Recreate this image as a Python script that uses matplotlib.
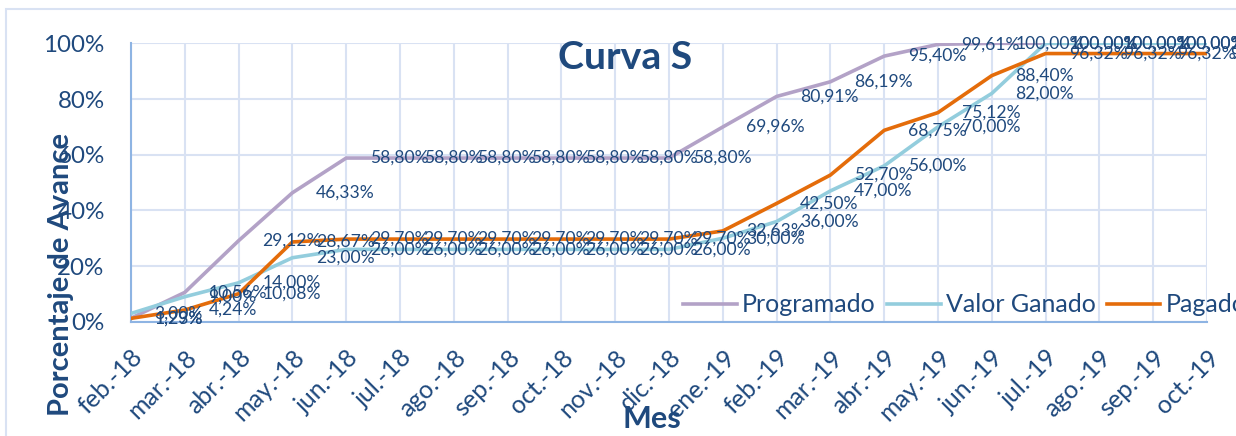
import numpy as np
import matplotlib
matplotlib.use('Agg')
import matplotlib.pyplot as plt
from matplotlib.patches import Rectangle

plt.rcParams['font.family'] = ['Lato', 'DejaVu Sans']

# datos de la curva S (porcentaje de avance)
meses = ['feb.-18', 'mar.-18', 'abr.-18', 'may.-18', 'jun.-18', 'jul.-18', 'ago.-18',
         'sep.-18', 'oct.-18', 'nov.-18', 'dic.-18', 'ene.-19', 'feb.-19', 'mar.-19',
         'abr.-19', 'may.-19', 'jun.-19', 'jul.-19', 'ago.-19', 'sep.-19', 'oct.-19']
programado = [1.29, 10.56, 29.12, 46.33, 58.80, 58.80, 58.80, 58.80, 58.80, 58.80, 58.80,
              69.96, 80.91, 86.19, 95.40, 99.61, 100.00, 100.00, 100.00, 100.00, 100.00]
valor_ganado = [3.00, 9.00, 14.00, 23.00, 26.00, 26.00, 26.00, 26.00, 26.00, 26.00, 26.00,
                30.00, 36.00, 47.00, 56.00, 70.00, 82.00, 100.00, 100.00, 100.00, 100.00]
pagado = [1.23, 4.24, 10.08, 28.67, 29.70, 29.70, 29.70, 29.70, 29.70, 29.70, 29.70,
          32.63, 42.50, 52.70, 68.75, 75.12, 88.40, 96.32, 96.32, 96.32, 96.32]
y_ticks = [0, 20, 40, 60, 80, 100]

W, H = 1236, 436
azul = '#1F497D'
grid_c = '#D9E2F3'

fig = plt.figure(figsize=(W / 100, H / 100), dpi=100)
ax = fig.add_axes([131 / W, 1 - 321.8 / H, (1207 - 131) / W, (321.8 - 43.3) / H])

x = np.arange(len(meses))
series = [('Programado', programado, '#B3A2C7'),
          ('Valor Ganado', valor_ganado, '#93CDDD'),
          ('Pagado', pagado, '#E46C0A')]

for name, vals, col in series:
    v = np.array(vals) / 100
    ax.plot(x, v, color=col, lw=2.6, label=name, zorder=3, solid_joinstyle='round')

# etiquetas de datos (a la derecha de cada punto)
for name, vals, col in series:
    for i, val in enumerate(vals):
        txt = f'{val:.2f}'.replace('.', ',') + '%'
        ax.annotate(txt, (i, val / 100), xytext=(17, 0), textcoords='offset points',
                    ha='left', va='center', fontsize=12.6, color=azul,
                    annotation_clip=False, zorder=5)

ax.set_xlim(0, len(meses) - 1)
ax.set_ylim(0, 1)
ax.set_xticks(x)
ax.set_xticklabels(meses, rotation=45, ha='right', va='top', rotation_mode='anchor')
ax.set_yticks(np.array(y_ticks) / 100)
ax.set_yticklabels([f'{t}%' for t in y_ticks])
ax.tick_params(axis='y', length=0, pad=19, labelsize=17.4, labelcolor=azul)
ax.tick_params(axis='x', length=0, pad=17, labelsize=18, labelcolor=azul)

ax.grid(True, color=grid_c, lw=1.5, zorder=0)
ax.set_axisbelow(True)
for s in ['top', 'right']:
    ax.spines[s].set_visible(False)
for s in ['left', 'bottom']:
    ax.spines[s].set_color('#8EB4E3')
    ax.spines[s].set_linewidth(1.5)

fig.text(625 / W, 1 - 57 / H, 'Curva S', ha='center', va='center', fontsize=28.3,
         fontweight='bold', color=azul)
fig.text(61 / W, 1 - 274 / H, 'Porcentaje de Avance', rotation=90, ha='center',
         va='center', fontsize=21, fontweight='bold', color=azul)
fig.text(652 / W, 1 - 419 / H, 'Mes', ha='center', va='center', fontsize=22,
         fontweight='bold', color=azul)

leg = fig.legend(loc='center left', bbox_to_anchor=(683 / W, 1 - 305 / H), ncol=3,
                 frameon=False, fontsize=18, handlelength=2.15, handletextpad=0.2,
                 columnspacing=0.45, borderpad=0, borderaxespad=0)
for t in leg.get_texts():
    t.set_color(azul)

fig.patches.append(Rectangle((6 / W, -0.1), 1.2, 1 - 9 / H + 0.1, transform=fig.transFigure,
                             fill=False, edgecolor=grid_c, lw=1.5))

fig.savefig('out.png', dpi=100)
